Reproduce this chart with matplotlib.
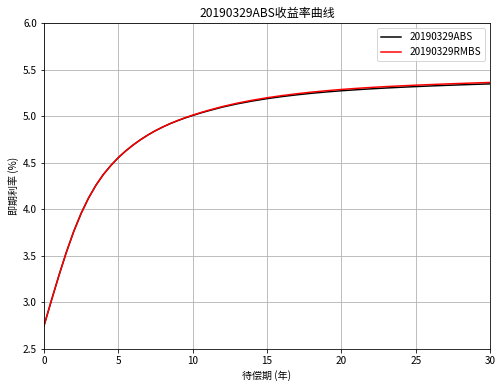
import matplotlib
matplotlib.use("Agg")
import matplotlib.pyplot as plt

plt.rcParams['font.family'] = ['Noto Sans CJK SC', 'DejaVu Sans']
plt.rcParams['axes.unicode_minus'] = False

# 待偿期 (years)
terms = [0, 0.5, 1, 1.5, 2, 2.5, 3, 3.5, 4, 4.5, 5, 5.5, 6, 6.5, 7, 7.5,
         8, 8.5, 9, 9.5, 10, 10.5, 11, 12, 13, 14, 15, 16, 17, 18, 19, 20,
         21, 22, 23, 24, 25, 26, 27, 28, 29, 30]
abs_rates = [2.750, 3.022, 3.287, 3.537, 3.762, 3.957, 4.122, 4.260, 4.375,
             4.471, 4.555, 4.627, 4.691, 4.748, 4.799, 4.844, 4.884, 4.920,
             4.952, 4.981, 5.007, 5.032, 5.055, 5.097, 5.132, 5.162, 5.188,
             5.210, 5.229, 5.2455, 5.260, 5.2725, 5.2835, 5.2933, 5.3021,
             5.3101, 5.3174, 5.3241, 5.3303, 5.3361, 5.3415, 5.3465]
rmbs_rates = [2.750, 3.022, 3.287, 3.537, 3.762, 3.957, 4.122, 4.260, 4.375,
              4.471, 4.555, 4.627, 4.691, 4.748, 4.799, 4.8445, 4.885,
              4.9215, 4.954, 4.984, 5.011, 5.0365, 5.060, 5.103, 5.1395,
              5.1705, 5.1975, 5.2205, 5.2405, 5.258, 5.273, 5.2865, 5.298,
              5.3083, 5.3171, 5.3251, 5.3324, 5.3391, 5.3453, 5.3511,
              5.3565, 5.3615]

fig = plt.figure(figsize=(503 / 72, 391 / 72), dpi=72)
ax = fig.add_axes([44 / 503, 1 - 349 / 391, 446 / 503, 326 / 391])

ax.plot(terms, abs_rates, color="black", linewidth=1.5, label="20190329ABS")
ax.plot(terms, rmbs_rates, color="red", linewidth=1.5, label="20190329RMBS")

ax.set_xlim(0, 30)
ax.set_ylim(2.5, 6.0)
ax.set_xticks([0, 5, 10, 15, 20, 25, 30])
ax.set_yticks([2.5, 3.0, 3.5, 4.0, 4.5, 5.0, 5.5, 6.0])
ax.grid(True)
ax.tick_params(labelsize=10)

ax.set_title("20190329ABS收益率曲线", fontsize=12)
ax.set_xlabel("待偿期 (年)", fontsize=10)
ax.set_ylabel("即期利率 (%)", fontsize=10)
ax.legend(loc="upper right", fontsize=10)

fig.savefig("out.png", dpi=72)
